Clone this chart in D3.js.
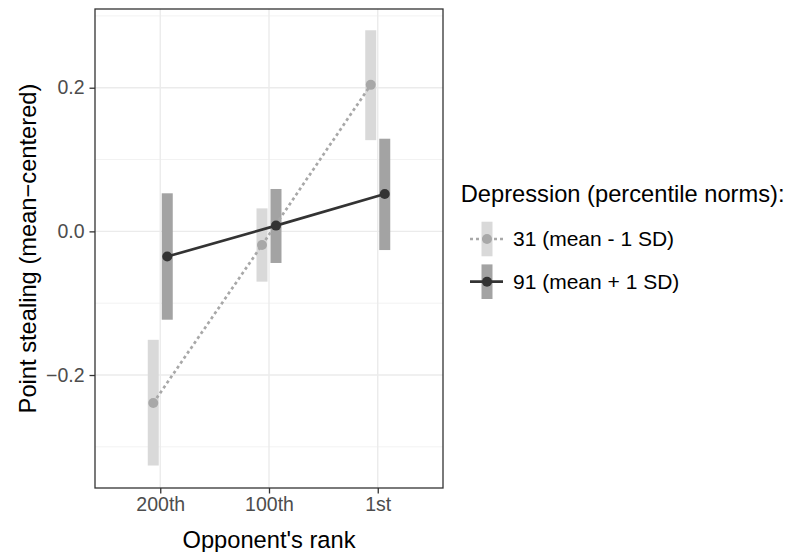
<!DOCTYPE html>
<html>
<head>
<meta charset="utf-8">
<script src="https://cdn.jsdelivr.net/npm/d3@7"></script>
<style>
  body { margin: 0; background: white; }
  text { font-family: "Liberation Sans", Arial, sans-serif; }
</style>
</head>
<body>
<div class="canvas"></div>
<script>
// data
var ranks = ["200th", "100th", "1st"];
var lowMean = [-0.239, -0.019, 0.204];
var lowLo = [-0.326, -0.070, 0.127];
var lowHi = [-0.151, 0.032, 0.280];
var highMean = [-0.035, 0.008, 0.052];
var highLo = [-0.123, -0.044, -0.026];
var highHi = [0.053, 0.059, 0.129];
var seriesLabels = ["31 (mean - 1 SD)", "91 (mean + 1 SD)"];
var yTicks = [-0.2, 0.0, 0.2];
var yMinor = [-0.3, -0.1, 0.1, 0.3];

var width = 790;
var height = 552;
var panel = { left: 95, right: 443, top: 9, bottom: 488 };
var dodge = 7;

var series = [
    { label: seriesLabels[0], mean: lowMean, lo: lowLo, hi: lowHi, off: -dodge,
      bar: "#d9d9d9", col: "#a8a8a8", dash: "3,3" },
    { label: seriesLabels[1], mean: highMean, lo: highLo, hi: highHi, off: dodge,
      bar: "#a3a3a3", col: "#333333", dash: null }
];

var svg = d3.select(".canvas").append("svg")
    .attr("width", width)
    .attr("height", height)
    .style("background", "white");

var x = d3.scalePoint()
    .domain(ranks)
    .range([panel.left, panel.right])
    .padding(0.6);

var y = d3.scaleLinear()
    .domain([-0.3573, 0.3096])
    .range([panel.bottom, panel.top]);

// grid
var grid = svg.append("g");
grid.selectAll("line.minor")
    .data(yMinor)
    .enter().append("line")
    .attr("x1", panel.left).attr("x2", panel.right)
    .attr("y1", d => y(d)).attr("y2", d => y(d))
    .style("stroke", "#f2f2f2").style("stroke-width", 1);
grid.selectAll("line.majory")
    .data(yTicks)
    .enter().append("line")
    .attr("x1", panel.left).attr("x2", panel.right)
    .attr("y1", d => y(d)).attr("y2", d => y(d))
    .style("stroke", "#ebebeb").style("stroke-width", 1.4);
grid.selectAll("line.majorx")
    .data(ranks)
    .enter().append("line")
    .attr("x1", d => x(d)).attr("x2", d => x(d))
    .attr("y1", panel.top).attr("y2", panel.bottom)
    .style("stroke", "#ebebeb").style("stroke-width", 1.4);

// error bars
series.forEach(s => {
    svg.append("g").selectAll("rect")
        .data(ranks)
        .enter().append("rect")
        .attr("x", d => x(d) + s.off - 5.5)
        .attr("width", 11)
        .attr("y", (d, i) => y(s.hi[i]))
        .attr("height", (d, i) => y(s.lo[i]) - y(s.hi[i]))
        .style("fill", s.bar);
});

// lines
var line = d3.line();
series.forEach(s => {
    svg.append("path")
        .attr("d", line(ranks.map((r, i) => [x(r) + s.off, y(s.mean[i])])))
        .style("fill", "none")
        .style("stroke", s.col)
        .style("stroke-width", 2.7)
        .style("stroke-dasharray", s.dash);
});

// points
series.forEach(s => {
    svg.append("g").selectAll("circle")
        .data(ranks)
        .enter().append("circle")
        .attr("cx", d => x(d) + s.off)
        .attr("cy", (d, i) => y(s.mean[i]))
        .attr("r", 5)
        .style("fill", s.col);
});

// panel border
svg.append("rect")
    .attr("x", panel.left).attr("y", panel.top)
    .attr("width", panel.right - panel.left)
    .attr("height", panel.bottom - panel.top)
    .style("fill", "none")
    .style("stroke", "#333333")
    .style("stroke-width", 1.3);

// axes
var yAxis = svg.append("g")
    .attr("transform", `translate(${panel.left},0)`)
    .call(d3.axisLeft(y).tickValues(yTicks).tickFormat(d3.format(".1f")).tickSize(5.5).tickPadding(5));
var xAxis = svg.append("g")
    .attr("transform", `translate(0,${panel.bottom})`)
    .call(d3.axisBottom(x).tickSize(5.5).tickPadding(4));

[yAxis, xAxis].forEach(a => {
    a.select(".domain").remove();
    a.selectAll(".tick line").style("stroke", "#333333").style("stroke-width", 1.3);
    a.selectAll(".tick text")
        .style("fill", "#4d4d4d")
        .style("font-size", "19.5px")
        .style("font-family", "'Liberation Sans', Arial, sans-serif");
});

svg.append("text")
    .attr("x", (panel.left + panel.right) / 2)
    .attr("y", 548)
    .attr("text-anchor", "middle")
    .style("font-size", "23.7px")
    .text("Opponent's rank");

svg.append("text")
    .attr("transform", `translate(36,${(panel.top + panel.bottom) / 2}) rotate(-90)`)
    .attr("text-anchor", "middle")
    .style("font-size", "23.7px")
    .text("Point stealing (mean\u2212centered)");

// legend
var legend = svg.append("g");
legend.append("text")
    .attr("x", 460.7)
    .attr("y", 201.7)
    .style("font-size", "23.7px")
    .text("Depression (percentile norms):");

var keys = legend.selectAll("g.key")
    .data(series)
    .enter().append("g")
    .attr("class", "key")
    .attr("transform", (d, i) => `translate(487,${239 + i * 42.7})`);

keys.append("rect")
    .attr("x", -5.5).attr("width", 11)
    .attr("y", -17.3).attr("height", 34.6)
    .style("fill", d => d.bar);
keys.append("line")
    .attr("x1", -17).attr("x2", 16)
    .style("stroke", d => d.col)
    .style("stroke-width", 2.7)
    .style("stroke-dasharray", d => d.dash);
keys.append("circle")
    .attr("r", 5)
    .style("fill", d => d.col);
keys.append("text")
    .attr("x", 26)
    .attr("y", 7.3)
    .style("font-size", "21px")
    .text(d => d.label);
</script>
</body>
</html>
